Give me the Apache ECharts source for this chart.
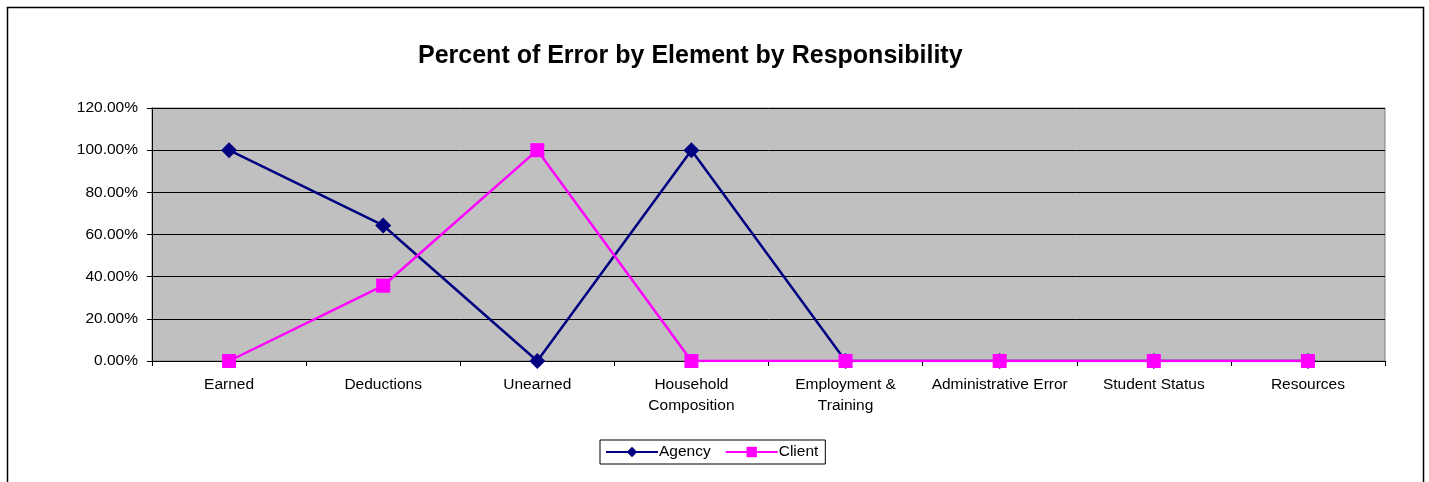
<!DOCTYPE html>
<html>
<head>
<meta charset="utf-8">
<script src="https://cdn.jsdelivr.net/npm/echarts@6/dist/echarts.min.js"></script>
<style>
  html, body { margin: 0; padding: 0; background: #fff; }
  #chart { width: 1429px; height: 482px; }
</style>
</head>
<body>
<div id="chart"></div>
<script>
// element categories
const categories = ['Earned', 'Deductions', 'Unearned', 'Household\nComposition',
  'Employment &\nTraining', 'Administrative Error', 'Student Status', 'Resources'];
// percent of error values
const agency = [100, 64.29, 0, 100, 0, 0, 0, 0];
const client = [0, 35.71, 100, 0, 0, 0, 0, 0];

const font = 'Liberation Sans, Arial, sans-serif';

const myChart = echarts.init(document.getElementById('chart'));
const option = {
  animation: false,
  textStyle: { fontFamily: font },
  title: {
    text: 'Percent of Error by Element by Responsibility',
    left: 413,
    top: 39,
    textStyle: { fontSize: 25, fontWeight: 'bold', color: '#000', fontFamily: font }
  },
  graphic: [{
    type: 'rect',
    shape: { x: 7.5, y: 7.5, width: 1416, height: 520 },
    style: { fill: 'none', stroke: '#000', lineWidth: 1.5 },
    silent: true
  }],
  legend: {
    left: 600,
    top: 440,
    itemWidth: 52,
    itemHeight: 13,
    itemGap: 14,
    padding: [4, 7, 4, 5],
    borderColor: '#000',
    borderWidth: 1,
    textStyle: { fontSize: 15.5, color: '#000', fontFamily: font, padding: [0, 0, 0, -4] },
    data: ['Agency', 'Client']
  },
  grid: {
    left: 152,
    right: 44,
    top: 108,
    bottom: 121,
    show: true,
    backgroundColor: '#C0C0C0',
    borderColor: '#808080',
    borderWidth: 1
  },
  xAxis: {
    type: 'category',
    data: categories,
    boundaryGap: true,
    axisLine: { lineStyle: { color: '#000', width: 1 } },
    axisTick: { show: true, length: 5, lineStyle: { color: '#000' } },
    axisLabel: { interval: 0, color: '#000', fontSize: 15.5, margin: 13, lineHeight: 21, fontFamily: font }
  },
  yAxis: {
    type: 'value',
    min: 0,
    max: 120,
    interval: 20,
    axisLine: { show: true, lineStyle: { color: '#000', width: 1 } },
    axisTick: { show: true, length: 5, lineStyle: { color: '#000' } },
    axisLabel: {
      color: '#000', fontSize: 15.5, margin: 14, fontFamily: font,
      formatter: v => v.toFixed(2) + '%'
    },
    splitLine: { show: true, lineStyle: { color: '#000', width: 1 } }
  },
  series: [
    {
      name: 'Agency',
      type: 'line',
      data: agency,
      symbol: 'diamond',
      symbolSize: 16,
      color: '#000080',
      lineStyle: { width: 2.5, color: '#000080' },
      itemStyle: { color: '#000080' },
      z: 3
    },
    {
      name: 'Client',
      type: 'line',
      data: client,
      symbol: 'rect',
      symbolSize: 14,
      color: '#FF00FF',
      lineStyle: { width: 2.5, color: '#FF00FF' },
      itemStyle: { color: '#FF00FF' },
      z: 4
    }
  ]
};
myChart.setOption(option);
</script>
</body>
</html>
